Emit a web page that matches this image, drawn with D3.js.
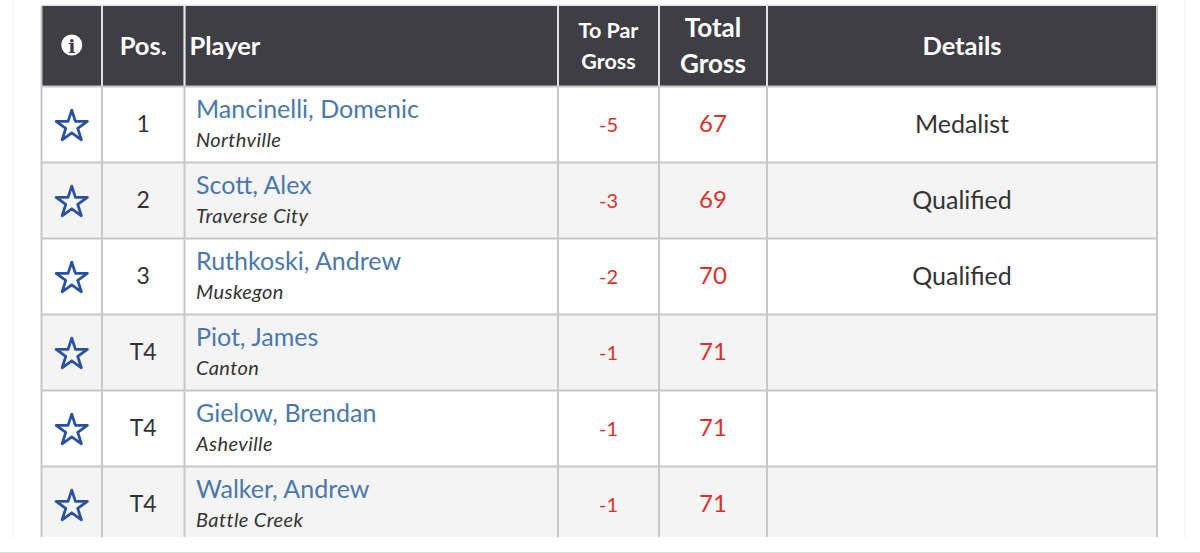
<!DOCTYPE html>
<html>
<head>
<meta charset="utf-8">
<script src="https://cdn.jsdelivr.net/npm/d3@7/dist/d3.min.js"></script>
<style>
html,body{margin:0;padding:0;background:#fff;overflow:hidden}
svg{display:block;font-family:Lato,"Open Sans",sans-serif}
</style>
</head>
<body>
<svg id="c" width="1200" height="553"></svg>
<script>
const positions = ["1","2","3","T4","T4","T4"];
const players = ["Mancinelli, Domenic","Scott, Alex","Ruthkoski, Andrew","Piot, James","Gielow, Brendan","Walker, Andrew"];
const cities = ["Northville","Traverse City","Muskegon","Canton","Asheville","Battle Creek"];
const toPar = [-5,-3,-2,-1,-1,-1];
const totals = [67,69,70,71,71,71];
const details = ["Medalist","Qualified","Qualified","","",""];
const columnKeys = ["info","pos","player","par","total","details"];

(function(){
const svg = d3.select("#c");
const edges = [41.5,102,184.5,558,659,767,1157];
const x0 = k => edges[columnKeys.indexOf(k)];
const x1 = k => edges[columnKeys.indexOf(k)+1];
const cx = k => (x0(k)+x1(k))/2;
const y = d3.scaleLinear().domain([0,1]).range([87,163]);
const tableBottom = 537, tableTop = 6;
const line = "#c8c8c8", head = "#3f3e44";

svg.append("g").selectAll("line").data([13,1185]).join("line")
  .attr("x1",d=>d).attr("x2",d=>d).attr("y1",0).attr("y2",538)
  .attr("stroke","#f0f0f0").attr("stroke-width",1);
svg.append("rect").attr("x",0).attr("y",552).attr("width",1200).attr("height",1).attr("fill","#dcdcdc");
svg.append("rect").attr("x",41).attr("y",4.5).attr("width",1117).attr("height",1.5).attr("fill","#e2e2e2");

svg.append("rect").attr("x",edges[0]).attr("y",tableTop).attr("width",edges[6]-edges[0]).attr("height",80).attr("fill",head);

svg.append("g").selectAll("rect").data(players).join("rect")
  .attr("x",edges[0]).attr("width",edges[6]-edges[0])
  .attr("y",(d,i)=>y(i))
  .attr("height",(d,i)=>Math.min(y(i+1),tableBottom)-y(i))
  .attr("fill",(d,i)=>i%2?"#f4f4f4":"#fff");

svg.append("g").selectAll("line").data(edges).join("line")
  .attr("x1",d=>d).attr("x2",d=>d).attr("y1",tableTop)
  .attr("y2",tableBottom).attr("stroke",line).attr("stroke-width",2);
svg.append("g").selectAll("line").data(edges.slice(1,6)).join("line")
  .attr("x1",d=>d).attr("x2",d=>d).attr("y1",tableTop).attr("y2",86)
  .attr("stroke","#e6e6e6").attr("stroke-width",1.6);
svg.append("g").selectAll("line").data(d3.range(0,players.length)).join("line")
  .attr("x1",edges[0]).attr("x2",edges[6]).attr("y1",d=>y(d)-.5).attr("y2",d=>y(d)-.5)
  .attr("stroke",line).attr("stroke-width",2);

const headers = [
 {t:"Pos.",x:cx("pos"),y:54.5,s:25.5,a:"middle"},
 {t:"Player",x:189.5,y:54.5,s:25.5,a:"start"},
 {t:"To Par",x:cx("par"),y:38,s:21.5,a:"middle"},
 {t:"Gross",x:cx("par"),y:69,s:21.5,a:"middle"},
 {t:"Total",x:cx("total"),y:36.5,s:26,a:"middle"},
 {t:"Gross",x:cx("total"),y:72.5,s:26,a:"middle"},
 {t:"Details",x:cx("details"),y:54.5,s:25.5,a:"middle"}
];
svg.append("g").selectAll("text").data(headers).join("text")
  .attr("x",d=>d.x).attr("y",d=>d.y).attr("text-anchor",d=>d.a)
  .attr("font-size",d=>d.s).attr("font-weight",700).attr("fill","#fff").text(d=>d.t);

const info = svg.append("g").attr("transform",`translate(${cx("info")},45)`);
info.append("circle").attr("r",10.5).attr("fill","#fff");
info.append("text").attr("text-anchor","middle").attr("y",7.5).attr("font-family","'DejaVu Serif',serif")
  .attr("font-weight",700).attr("font-size",19).attr("fill",head).text("i");

const star = d3.symbol().type(d3.symbolStar).size(302);
svg.append("g").selectAll("path").data(players).join("path")
  .attr("d",star())
  .attr("transform",(d,i)=>`translate(${cx("info")},${y(i)+39.5})`)
  .attr("fill","none").attr("stroke","#2a52a0").attr("stroke-width",2.8).attr("stroke-linejoin","round");

const col = (data,yo,size,fill,anchor,xv,style,spacing) =>
  svg.append("g").selectAll("text").data(data).join("text")
    .attr("x",xv).attr("y",(d,i)=>y(i)+yo).attr("text-anchor",anchor)
    .attr("font-size",size).attr("fill",fill).attr("font-style",style||"normal")
    .attr("letter-spacing",spacing||0).text(d=>d);

col(positions,45,23,"#333","middle",cx("pos"));
col(players,30.5,25,"#4a78ad","start",196);
col(cities,60,20,"#333","start",196,"italic",0.4);
col(toPar,45,20,"#d9302c","middle",cx("par"));
col(totals,45,24,"#d9302c","middle",cx("total"));
col(details,45.5,25,"#333","middle",cx("details"));
})();
</script>
</body>
</html>
